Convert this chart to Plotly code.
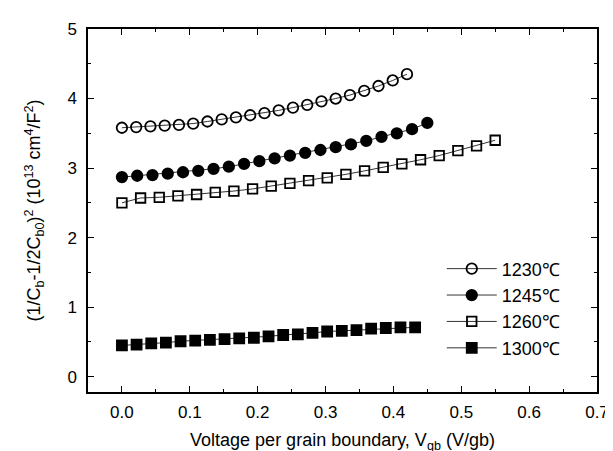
import plotly.graph_objects as go

# Data
x_1230 = [round(0.021 * i, 4) for i in range(21)]
y_1230 = [3.58, 3.59, 3.60, 3.61, 3.62, 3.64, 3.67, 3.70, 3.73, 3.76, 3.79,
          3.83, 3.87, 3.91, 3.96, 4.00, 4.05, 4.11, 4.18, 4.26, 4.35]

x_1245 = [round(0.0225 * i, 4) for i in range(21)]
y_1245 = [2.87, 2.89, 2.90, 2.92, 2.94, 2.96, 2.99, 3.02, 3.06, 3.10, 3.14,
          3.18, 3.22, 3.26, 3.30, 3.34, 3.39, 3.45, 3.50, 3.56, 3.65]

x_1260 = [round(0.0275 * i, 4) for i in range(21)]
y_1260 = [2.50, 2.57, 2.58, 2.60, 2.62, 2.65, 2.67, 2.70, 2.74, 2.78, 2.82,
          2.86, 2.91, 2.96, 3.01, 3.06, 3.12, 3.18, 3.25, 3.32, 3.40]

x_1300 = [round(0.0216 * i, 4) for i in range(21)]
y_1300 = [0.45, 0.46, 0.48, 0.49, 0.51, 0.52, 0.53, 0.54, 0.55, 0.56, 0.58,
          0.60, 0.61, 0.63, 0.65, 0.66, 0.67, 0.69, 0.70, 0.71, 0.71]

names = ["1230℃", "1245℃", "1260℃", "1300℃"]

FONT = "Liberation Sans, Arial, sans-serif"

fig = go.Figure()
series = [
    (x_1230, y_1230, names[0], "circle-open", 10.5),
    (x_1245, y_1245, names[1], "circle", 10.5),
    (x_1260, y_1260, names[2], "square-open", 9.5),
    (x_1300, y_1300, names[3], "square", 10),
]
for xs, ys, nm, sym, sz in series:
    fig.add_trace(go.Scatter(
        x=xs, y=ys, name=nm, mode="lines+markers",
        line=dict(color="black", width=0.8),
        marker=dict(symbol=sym, size=sz, color="black",
                    line=dict(color="black", width=1.8)),
    ))

axis_common = dict(
    showline=True, linecolor="black", linewidth=1.5, mirror="allticks",
    ticks="inside", ticklen=6, tickwidth=1.3, tickcolor="black",
    showgrid=False, zeroline=False,
    tickfont=dict(family=FONT, size=17, color="black"),
)

fig.update_xaxes(
    range=[-0.05, 0.7], dtick=0.1, tick0=0, tickformat=".1f",
    minor=dict(ticks="inside", dtick=0.05, tick0=0, ticklen=3, tickcolor="black", tickwidth=1.2),
    title=dict(text="Voltage per grain boundary, V<sub>gb</sub> (V/gb)",
               font=dict(family=FONT, size=18, color="black"), standoff=12),
    ticklabelstandoff=4,
    **axis_common,
)
fig.update_yaxes(
    range=[-0.22, 5], dtick=1, tick0=0,
    minor=dict(ticks="inside", dtick=0.5, tick0=0, ticklen=3, tickcolor="black", tickwidth=1.2),
    title=dict(text="(1/C<sub>b</sub>-1/2C<sub>b0</sub>)<sup>2</sup> (10<sup>13</sup> cm<sup>4</sup>/F<sup>2</sup>)",
               font=dict(family=FONT, size=18, color="black"), standoff=22),
    ticklabelstandoff=6,
    **axis_common,
)

fig.update_layout(
    width=613, height=451,
    margin=dict(l=80, r=18, t=17, b=66),
    paper_bgcolor="white", plot_bgcolor="white",
    showlegend=True,
    legend=dict(
        x=0.695, y=0.39, xanchor="left", yanchor="top",
        bgcolor="rgba(0,0,0,0)", borderwidth=0,
        font=dict(family=FONT, size=18, color="black"),
        itemwidth=50, tracegroupgap=0,
    ),
)

fig.write_html("out.html")
